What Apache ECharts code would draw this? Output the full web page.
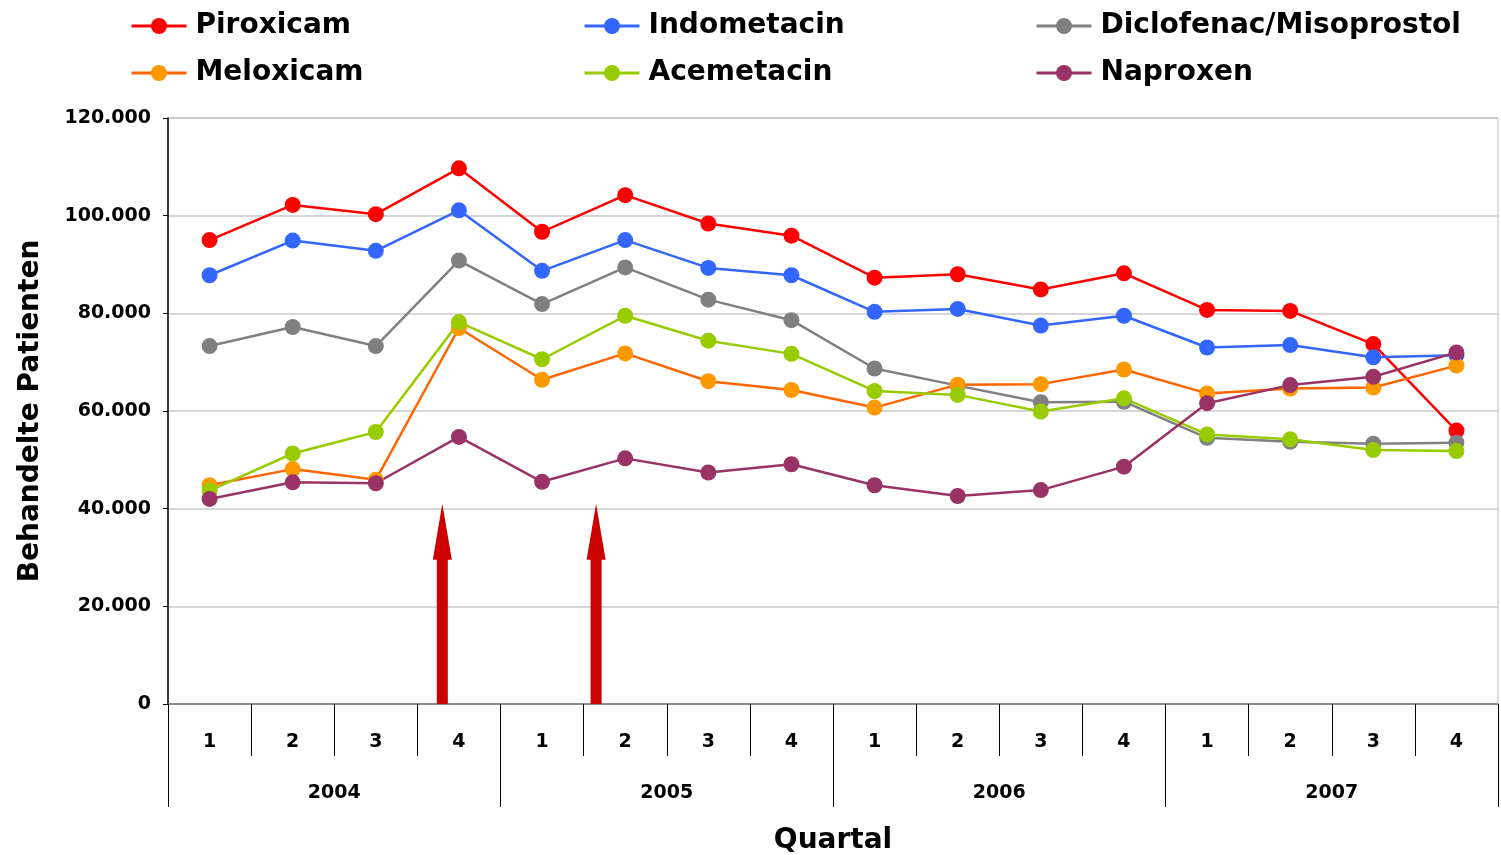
<!DOCTYPE html>
<html>
<head>
<meta charset="utf-8">
<script src="https://cdn.jsdelivr.net/npm/echarts@6/dist/echarts.min.js"></script>
<style>
  html, body { margin: 0; padding: 0; background: #fff; }
  #chart { width: 1501px; height: 855px; }
</style>
</head>
<body>
<div id="chart"></div>
<script>
// data
const quarters = ['1', '2', '3', '4', '1', '2', '3', '4', '1', '2', '3', '4', '1', '2', '3', '4']
const years = ['2004', '2005', '2006', '2007']

const piroxicam = [95000, 102200, 100300, 109700, 96700, 104200, 98400, 95900, 87300, 88000, 84900, 88200, 80700, 80500, 73700, 56000]
const indometacin = [87800, 94900, 92800, 101100, 88700, 95000, 89300, 87800, 80300, 80900, 77500, 79500, 73000, 73500, 71000, 71400]
const diclofenac = [73300, 77200, 73300, 90800, 81900, 89400, 82800, 78600, 68700, 65200, 61800, 61900, 54500, 53700, 53300, 53500]
const meloxicam = [44800, 48100, 45900, 77000, 66400, 71800, 66100, 64300, 60700, 65400, 65500, 68500, 63600, 64600, 64800, 69300]
const acemetacin = [43700, 51300, 55700, 78200, 70600, 79500, 74400, 71700, 64100, 63300, 59900, 62600, 55200, 54200, 52000, 51800]
const naproxen = [42000, 45400, 45200, 54700, 45500, 50300, 47400, 49100, 44800, 42600, 43800, 48600, 61600, 65300, 67000, 72000]

// arrows: position on the quarter scale (0 = first quarter), height of the tip
const arrowPos = [2.8, 4.65]
const arrowTop = 41000

const font = 'DejaVu Sans'

function fmt (v) {
  return String(v).replace(/\B(?=(\d{3})+(?!\d))/g, '.')
}

function lineSeries (name, data, color, markerColor) {
  return {
    name: name,
    type: 'line',
    data: data,
    xAxisIndex: 0,
    yAxisIndex: 0,
    symbol: 'circle',
    symbolSize: 16,
    showAllSymbol: true,
    itemStyle: { color: markerColor || color },
    lineStyle: { color: color, width: 2.5 },
    emphasis: { disabled: true }
  }
}

function legendCol (left, names) {
  return {
    orient: 'vertical',
    left: left,
    top: 6,
    itemWidth: 55,
    itemHeight: 20,
    itemGap: 17,
    data: names,
    lineStyle: { width: 3 },
    textStyle: {
      fontFamily: font,
      fontWeight: 'bold',
      fontSize: 28,
      lineHeight: 30,
      color: '#000',
      padding: [0, 0, 0, 4]
    }
  }
}

const myChart = echarts.init(document.getElementById('chart'))

const option = {
  animation: false,
  legend: [
    legendCol(125, ['Piroxicam', 'Meloxicam']),
    legendCol(578, ['Indometacin', 'Acemetacin']),
    legendCol(1030, ['Diclofenac/Misoprostol', 'Naproxen'])
  ],
  grid: {
    left: 168,
    right: 3,
    top: 118,
    bottom: 151,
    outerBoundsMode: 'none',
    containLabel: false,
    show: true,
    borderColor: '#bbb',
    borderWidth: 1
  },
  xAxis: [
    {
      type: 'category',
      data: quarters,
      boundaryGap: true,
      position: 'bottom',
      axisLine: { lineStyle: { color: '#777', width: 1.5 } },
      axisTick: { show: true, interval: 0, length: 52, lineStyle: { color: '#000', width: 1 } },
      axisLabel: {
        interval: 0,
        margin: 29,
        fontFamily: font,
        fontWeight: 'bold',
        fontSize: 19,
        color: '#000'
      },
      splitLine: { show: false }
    },
    {
      type: 'category',
      data: years,
      boundaryGap: true,
      position: 'bottom',
      name: 'Quartal',
      nameLocation: 'middle',
      nameGap: 123,
      nameTextStyle: { fontFamily: font, fontWeight: 'bold', fontSize: 28, color: '#000' },
      axisLine: { show: false },
      axisTick: { show: true, interval: 0, length: 103, lineStyle: { color: '#000', width: 1 } },
      axisLabel: {
        interval: 0,
        margin: 80,
        fontFamily: font,
        fontWeight: 'bold',
        fontSize: 19,
        color: '#000'
      },
      splitLine: { show: false }
    },
    {
      type: 'value',
      min: -0.5,
      max: 15.5,
      show: false
    }
  ],
  yAxis: {
    type: 'value',
    min: 0,
    max: 120000,
    interval: 20000,
    name: 'Behandelte Patienten',
    nameLocation: 'middle',
    nameGap: 123,
    nameTextStyle: { fontFamily: font, fontWeight: 'bold', fontSize: 28, color: '#000' },
    axisLine: { show: true, onZero: false, lineStyle: { color: '#000', width: 1.5 } },
    axisTick: { show: true, length: 5, lineStyle: { color: '#000' } },
    axisLabel: {
      margin: 17,
      fontFamily: font,
      fontWeight: 'bold',
      fontSize: 19,
      color: '#000',
      formatter: fmt
    },
    splitLine: { lineStyle: { color: '#c8c8c8', width: 1.5 } }
  },
  series: [
    lineSeries('Piroxicam', piroxicam, '#FF0000'),
    lineSeries('Indometacin', indometacin, '#3366FF'),
    lineSeries('Diclofenac/Misoprostol', diclofenac, '#808080'),
    lineSeries('Meloxicam', meloxicam, '#FF6600', '#FF9900'),
    lineSeries('Acemetacin', acemetacin, '#99CC00'),
    lineSeries('Naproxen', naproxen, '#993366'),
    {
      type: 'custom',
      xAxisIndex: 2,
      yAxisIndex: 0,
      z: 1,
      silent: true,
      data: arrowPos.map(function (p) { return [p, arrowTop] }),
      renderItem: function (params, api) {
        const base = api.coord([api.value(0), 0])
        const tip = api.coord([api.value(0), api.value(1)])
        const x = base[0]
        const headLen = 56
        const shaftW = 5.5
        const headW = 9.5
        return {
          type: 'polygon',
          shape: {
            points: [
              [x - shaftW, base[1]],
              [x - shaftW, tip[1] + headLen],
              [x - headW, tip[1] + headLen],
              [x, tip[1]],
              [x + headW, tip[1] + headLen],
              [x + shaftW, tip[1] + headLen],
              [x + shaftW, base[1]]
            ]
          },
          style: { fill: '#CC0000' }
        }
      }
    }
  ]
}

myChart.setOption(option)
</script>
</body>
</html>
